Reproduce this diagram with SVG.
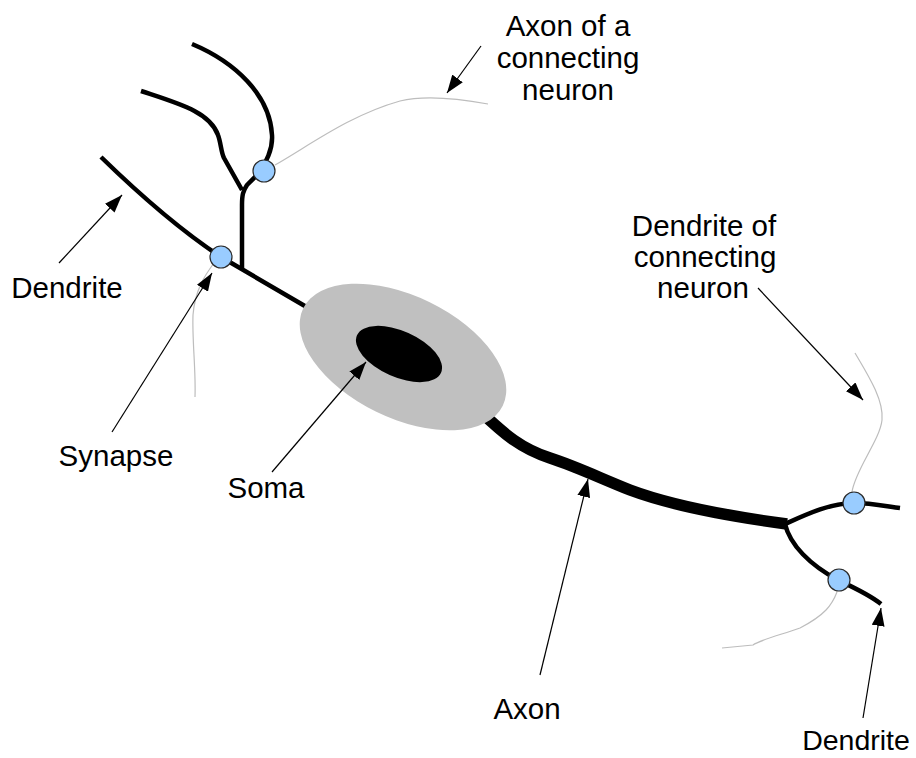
<svg xmlns="http://www.w3.org/2000/svg" width="916" height="758" viewBox="0 0 916 758">
  <style>
    .dend { fill: none; stroke: #000; stroke-width: 4.5; stroke-linecap: butt; stroke-linejoin: round; }
    .axon { fill: none; stroke: #000; stroke-width: 11.5; stroke-linecap: butt; }
    .other { fill: none; stroke: #bdbdbd; stroke-width: 1.2; }
    .syn { fill: #99ccff; stroke: #2a2a2a; stroke-width: 1.2; }
    .ptr { fill: none; stroke: #000; stroke-width: 1.2; marker-end: url(#head); }
    text { font-family: "Liberation Sans", Arial, sans-serif; font-size: 29.5px; fill: #000; text-anchor: middle; }
  </style>
  <defs>
    <marker id="head" markerUnits="userSpaceOnUse" markerWidth="19" markerHeight="13" refX="18" refY="6.5" orient="auto">
      <path d="M0,0 L18,6.5 L0,13 z" fill="#000"/>
    </marker>
  </defs>

  <!-- processes of neighbouring neurons (thin grey) -->
  <g id="neighbours">
    <path class="other" d="M275,165 C310,145 350,115 400,101 C420,96 445,96 488,104"/>
    <path class="other" d="M852,492 C855,470 880,440 882,420 C884,400 868,375 855,353"/>
    <path class="other" d="M837,592 C832,605 825,615 800,628 C780,635 760,640 753,645 L722,648"/>
    <path class="other" d="M214,263 C205,275 195,290 193,315 C192,340 196,370 195,397"/>
  </g>

  <!-- dendrites and axon -->
  <g id="dendrites">
    <path class="dend" d="M192,44 C235,62 270,95 272,135 C273,150 266,162 258,174 L247,185 C243,191 242,195 242,205 L242,268"/>
    <path class="dend" d="M141,91 C180,104 210,112 218,135 C221,143 221,152 224,158 L242,190"/>
    <path class="dend" d="M101,157 C140,195 180,230 221,257 L310,309"/>
    <path class="dend" d="M785,524 C805,515 830,503 854,503 C870,503 885,506 900,508"/>
    <path class="dend" d="M785,524 C790,545 810,565 838,580 C855,588 870,595 881,604"/>
  </g>
  <g id="axon">
    <path class="axon" d="M480,411 C505,435 522,449 550,458 C575,466 600,478 630,490 C670,505 720,515 787,524"/>
  </g>

  <!-- cell body -->
  <g id="soma">
    <ellipse cx="403" cy="357" rx="111" ry="61" transform="rotate(26 403 357)" fill="#c0c0c0"/>
    <ellipse cx="399" cy="354" rx="46" ry="23" transform="rotate(24 399 354)" fill="#000"/>
  </g>

  <!-- synapses -->
  <g id="synapses">
    <circle class="syn" cx="264" cy="171" r="11"/>
    <circle class="syn" cx="221" cy="257" r="11"/>
    <circle class="syn" cx="854" cy="503" r="11"/>
    <circle class="syn" cx="839" cy="580" r="11"/>
  </g>

  <!-- pointer arrows -->
  <g id="connectors">
    <path class="ptr" d="M481,46 L447,93"/>
    <path class="ptr" d="M758,288 L863,400"/>
    <path class="ptr" d="M59,263 L122,195"/>
    <path class="ptr" d="M112,432 L212,273"/>
    <path class="ptr" d="M272,472 L366,362"/>
    <path class="ptr" d="M540,675 L588,479"/>
    <path class="ptr" d="M863,718 L881,608"/>
  </g>

  <!-- labels -->
  <g id="label-axon-connecting">
    <text x="568" y="36">Axon of a</text>
    <text x="568" y="68">connecting</text>
    <text x="568" y="100">neuron</text>
  </g>
  <g id="label-dendrite-connecting">
    <text x="704" y="236">Dendrite of</text>
    <text x="705" y="267">connecting</text>
    <text x="703" y="298">neuron</text>
  </g>
  <g id="label-dendrite-left"><text x="67" y="298">Dendrite</text></g>
  <g id="label-synapse"><text x="116" y="466">Synapse</text></g>
  <g id="label-soma"><text x="266" y="498">Soma</text></g>
  <g id="label-axon"><text x="527" y="719">Axon</text></g>
  <g id="label-dendrite-right"><text x="856" y="750" style="font-size:28.5px">Dendrite</text></g>
</svg>
